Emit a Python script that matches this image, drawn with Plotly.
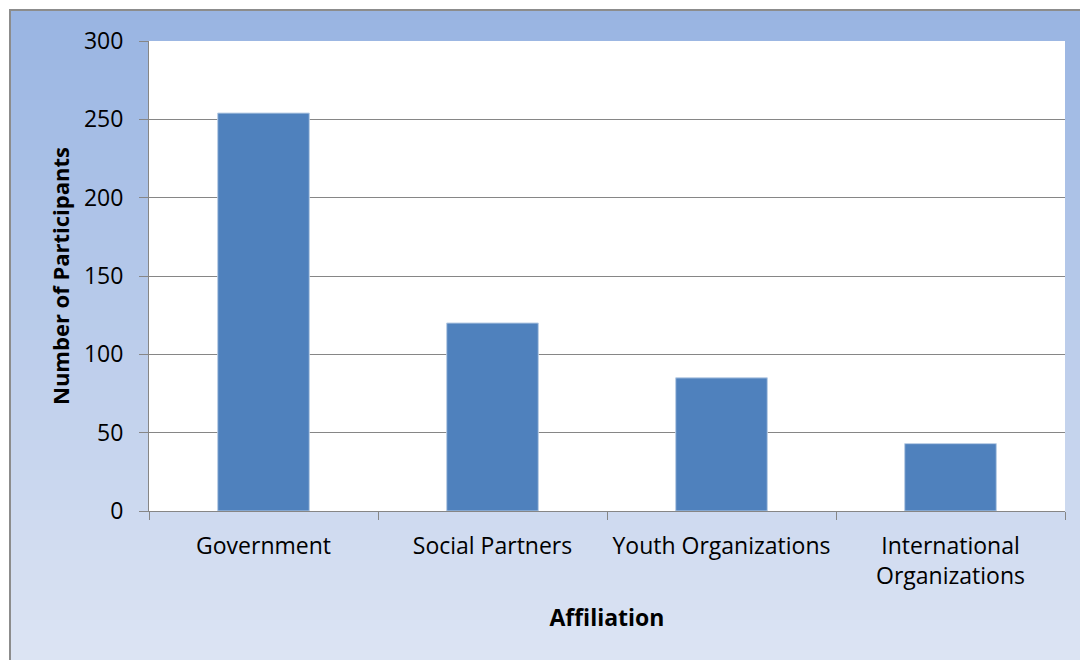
import plotly.graph_objects as go

categories = ["Government", "Social Partners", "Youth Organizations", "International<br>Organizations"]
participants = [254, 120, 85, 43]
y_ticks = [0, 50, 100, 150, 200, 250, 300]

W, H = 1080, 660
L, R, T, B = 149, 15, 41, 149
pw, ph = W - L - R, H - T - B

def px(x):
    return (x - L) / pw

def py(y):
    return (H - B - y) / ph

def lerp(c1, c2, t):
    return "rgb(%d,%d,%d)" % tuple(round(a + (b - a) * t) for a, b in zip(c1, c2))

top_c = (0x98, 0xB4, 0xE2)
bot_c = (0xDF, 0xE6, 0xF4)
shapes = []
y0, y1 = 10, 680
n = 67
for i in range(n):
    a = y0 + (y1 - y0) * i / n
    b = y0 + (y1 - y0) * (i + 1) / n + 0.6
    shapes.append(dict(type="rect", xref="paper", yref="paper", layer="below",
                       x0=px(10), x1=px(1090), y0=py(a), y1=py(b),
                       fillcolor=lerp(top_c, bot_c, (i + 0.5) / n), line=dict(width=0)))
shapes.append(dict(type="rect", xref="paper", yref="paper", layer="below",
                   x0=px(10), x1=px(1100), y0=py(10), y1=py(700),
                   fillcolor="rgba(0,0,0,0)", line=dict(color="#8C8C8C", width=2)))
shapes.append(dict(type="rect", xref="paper", yref="paper", layer="below",
                   x0=0, x1=1, y0=0, y1=1, fillcolor="white", line=dict(width=0)))

fig = go.Figure(go.Bar(
    x=categories, y=participants,
    marker=dict(color="#4F81BD", line=dict(color="#B9CDE5", width=1)),
))

font = "Open Sans"
fig.update_layout(
    width=W, height=H,
    margin=dict(l=L, r=R, t=T, b=B),
    paper_bgcolor="white", plot_bgcolor="white",
    bargap=0.6, showlegend=False,
    shapes=shapes,
    font=dict(family=font, size=23, color="black"),
)
fig.update_xaxes(
    showline=True, linecolor="#868686", linewidth=1,
    ticks="outside", tickson="boundaries", ticklen=8, tickcolor="#868686",
    tickfont=dict(family=font, size=23, color="black"),
    ticklabelstandoff=14,
    title=dict(text="<b>Affiliation</b>", font=dict(family=font, size=23), standoff=20),
)
fig.update_yaxes(
    range=[0, 300], tickvals=y_ticks, showgrid=True, gridcolor="#868686", gridwidth=1,
    showline=True, linecolor="#868686", linewidth=1, zeroline=False,
    ticks="outside", ticklen=9, tickcolor="#868686",
    tickfont=dict(family=font, size=23, color="black"),
    ticklabelstandoff=11,
    title=dict(text="<b>Number of Participants</b>", font=dict(family=font, size=22), standoff=8),
)
fig.write_html("out.html", config={"displayModeBar": False},
               post_script="document.body.style.margin='0';document.body.style.overflow='hidden';")
